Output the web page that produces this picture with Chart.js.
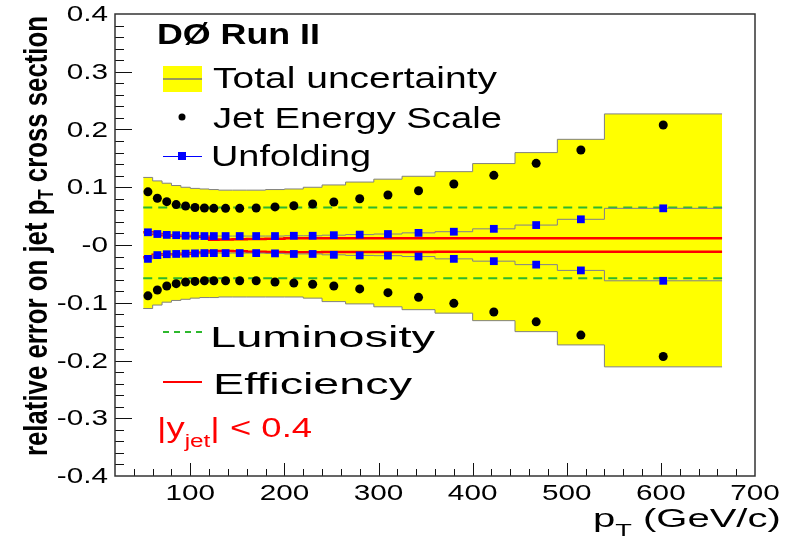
<!DOCTYPE html>
<html>
<head>
<meta charset="utf-8">
<script src="https://cdn.jsdelivr.net/npm/chart.js@4.4.1/dist/chart.umd.min.js"></script>
<style>
    html, body { margin: 0; padding: 0; background: #fff; }
    #chart { display: block; }
</style>
</head>
<body>
<canvas id="chart" width="785" height="539"></canvas>
<script>
// pT bins (GeV/c)
const binEdges = [50, 60, 70, 80, 90, 100, 110, 120, 130, 145, 160, 180, 200, 220, 240, 265, 295, 325, 360, 400, 445, 490, 540, 665];
const binCenters = [55, 65, 75, 85, 95, 105, 115, 125, 137.5, 152.5, 170, 190, 210, 230, 252.5, 280, 310, 342.5, 380, 422.5, 467.5, 515, 602.5];

// total uncertainty band
const totalUp = [0.117, 0.111, 0.107, 0.103, 0.100, 0.098, 0.097, 0.096, 0.095, 0.095, 0.095, 0.096, 0.097, 0.100, 0.104, 0.109, 0.114, 0.119, 0.127, 0.141, 0.160, 0.183, 0.227];
const totalDown = [-0.110, -0.104, -0.099, -0.096, -0.094, -0.092, -0.091, -0.091, -0.090, -0.090, -0.090, -0.090, -0.090, -0.092, -0.098, -0.102, -0.107, -0.112, -0.118, -0.131, -0.150, -0.173, -0.211];

// jet energy scale
const jesUp = [0.092, 0.081, 0.075, 0.070, 0.0675, 0.065, 0.064, 0.0635, 0.0635, 0.0635, 0.064, 0.066, 0.068, 0.071, 0.0745, 0.080, 0.0866, 0.094, 0.1056, 0.1206, 0.1414, 0.1645, 0.2078];
const jesDown = [-0.088, -0.078, -0.071, -0.067, -0.064, -0.063, -0.062, -0.062, -0.062, -0.062, -0.062, -0.064, -0.066, -0.068, -0.071, -0.076, -0.0825, -0.0906, -0.101, -0.116, -0.133, -0.156, -0.193];

// unfolding
const unfUp = [0.022, 0.019, 0.0175, 0.017, 0.016, 0.016, 0.0155, 0.0155, 0.0155, 0.0155, 0.0155, 0.0155, 0.016, 0.016, 0.017, 0.018, 0.019, 0.021, 0.023, 0.028, 0.0345, 0.0445, 0.0635];
const unfDown = [-0.024, -0.0175, -0.016, -0.0155, -0.015, -0.0145, -0.014, -0.014, -0.014, -0.014, -0.014, -0.0145, -0.0155, -0.0155, -0.017, -0.018, -0.0185, -0.020, -0.024, -0.028, -0.034, -0.044, -0.062];

// efficiency
const effUp = [0.022, 0.019, 0.017, 0.016, 0.0155, 0.015, 0.0145, 0.009, 0.0095, 0.010, 0.0105, 0.011, 0.0115, 0.0115, 0.0115, 0.0115, 0.0115, 0.0115, 0.0115, 0.0115, 0.0115, 0.0115, 0.0115];
const effDown = [-0.021, -0.017, -0.016, -0.016, -0.015, -0.014, -0.013, -0.0105, -0.0105, -0.011, -0.0115, -0.012, -0.0125, -0.0125, -0.012, -0.012, -0.012, -0.012, -0.0115, -0.0115, -0.0115, -0.0115, -0.0115];

// luminosity (flat)
const lumiRange = [50, 665];
const lumiUp = 0.065;
const lumiDown = -0.0575;

// axis ticks
const xTickValues = [100, 200, 300, 400, 500, 600, 700];
const xTickLabels = ["100", "200", "300", "400", "500", "600", "700"];
const yTickValues = [-0.4, -0.3, -0.2, -0.1, 0, 0.1, 0.2, 0.3, 0.4];
const yTickLabels = ["-0.4", "-0.3", "-0.2", "-0.1", "-0", "0.1", "0.2", "0.3", "0.4"];

const FONT = '"Liberation Sans", Arial, Helvetica, sans-serif';

// histogram -> points on bin edges for stepped lines
function stepPoints(edges, vals) {
    return edges.map((e, i) => ({ x: e, y: vals[Math.min(i, vals.length - 1)] }));
}
function centerPoints(vals) {
    return binCenters.map((c, i) => ({ x: c, y: vals[i] }));
}

// text stretched horizontally by sx
function stretchText(ctx, s, x, y, font, color, sx, align) {
    ctx.save();
    ctx.font = font;
    ctx.fillStyle = color;
    ctx.textAlign = "left";
    const w = ctx.measureText(s).width * sx;
    let x0 = x;
    if (align === "right") x0 = x - w;
    if (align === "center") x0 = x - w / 2;
    ctx.translate(x0, y);
    ctx.scale(sx, 1);
    ctx.fillText(s, 0, 0);
    ctx.restore();
    return w;
}
function fitScale(ctx, s, font, w) {
    ctx.save();
    ctx.font = font;
    const n = ctx.measureText(s).width;
    ctx.restore();
    return w / n;
}

const decorPlugin = {
    id: "decor",
    afterDraw(chart) {
        const ctx = chart.ctx;
        const a = chart.chartArea;
        const xs = chart.scales.x;
        const ys = chart.scales.y;

        ctx.save();
        // ticks inside the frame
        ctx.strokeStyle = "#111";
        ctx.lineWidth = 1;
        ctx.beginPath();
        for (let i = -19; i <= 19; i++) {
            const py = Math.round(ys.getPixelForValue(i * 0.02)) + 0.5;
            const len = (i % 5 === 0) ? 17 : 9;
            ctx.moveTo(a.left, py);
            ctx.lineTo(a.left + len, py);
        }
        for (let v = 40; v < 700; v += 20) {
            const px = Math.round(xs.getPixelForValue(v)) + 0.5;
            const len = (v % 100 === 0) ? 13 : 7;
            ctx.moveTo(px, a.bottom);
            ctx.lineTo(px, a.bottom - len);
        }
        ctx.stroke();

        // frame
        ctx.strokeStyle = "#333";
        ctx.lineWidth = 1.5;
        ctx.strokeRect(a.left, a.top, a.right - a.left, a.bottom - a.top);
        ctx.restore();

        // tick labels
        const tickFont = "22px " + FONT;
        yTickValues.forEach((v, i) => {
            ctx.textBaseline = "middle";
            stretchText(ctx, yTickLabels[i], 108, ys.getPixelForValue(v) + 1, tickFont, "#000", 1.35, "right");
        });
        xTickValues.forEach((v, i) => {
            ctx.textBaseline = "alphabetic";
            stretchText(ctx, xTickLabels[i], xs.getPixelForValue(v), 500, tickFont, "#000", 1.35, "center");
        });
        ctx.textBaseline = "alphabetic";

        // x axis title
        {
            const f1 = "25px " + FONT, f2 = "17px " + FONT;
            const sx = 1.6;
            let x = 593;
            x += stretchText(ctx, "p", x, 527, f1, "#000", sx);
            x += stretchText(ctx, "T", x, 536, f2, "#000", sx);
            stretchText(ctx, " (GeV/c)", x, 527, f1, "#000", sx);
        }

        // y axis title (rotated)
        {
            const f1 = "bold 34px " + FONT, f2 = "bold 22px " + FONT;
            const p1 = "relative error on jet p", p2 = "T", p3 = " cross section";
            ctx.save();
            ctx.font = f1;
            const w1 = ctx.measureText(p1).width, w3 = ctx.measureText(p3).width;
            ctx.font = f2;
            const w2 = ctx.measureText(p2).width;
            ctx.restore();
            const sx = 440 / (w1 + w2 + w3);
            ctx.save();
            ctx.translate(47, 456);
            ctx.rotate(-Math.PI / 2);
            let x = 0;
            x += stretchText(ctx, p1, x, 0, f1, "#000", sx);
            x += stretchText(ctx, p2, x, 6, f2, "#000", sx);
            stretchText(ctx, p3, x, 0, f1, "#000", sx);
            ctx.restore();
        }

        // experiment label
        const bold = "bold 29px " + FONT;
        stretchText(ctx, "D\u00D8 Run II", 157, 44, bold, "#000", fitScale(ctx, "D\u00D8 Run II", bold, 163));

        // legend
        const lf = "29px " + FONT;
        ctx.save();
        ctx.fillStyle = "#ffff00";
        ctx.fillRect(163, 66, 39, 26);
        ctx.strokeStyle = "#777";
        ctx.lineWidth = 1.5;
        ctx.beginPath(); ctx.moveTo(163, 79); ctx.lineTo(202, 79); ctx.stroke();
        ctx.fillStyle = "#000";
        ctx.beginPath(); ctx.arc(182, 117, 3.5, 0, Math.PI * 2); ctx.fill();
        ctx.strokeStyle = "#0000ff";
        ctx.lineWidth = 1;
        ctx.beginPath(); ctx.moveTo(163, 156.5); ctx.lineTo(202, 156.5); ctx.stroke();
        ctx.fillStyle = "#0000ff";
        ctx.fillRect(178, 152, 8, 8);
        ctx.strokeStyle = "#2db82d";
        ctx.lineWidth = 2;
        ctx.setLineDash([6, 5]);
        ctx.beginPath(); ctx.moveTo(163, 332); ctx.lineTo(202, 332); ctx.stroke();
        ctx.setLineDash([]);
        ctx.strokeStyle = "#ff0000";
        ctx.beginPath(); ctx.moveTo(163, 382); ctx.lineTo(202, 382); ctx.stroke();
        ctx.restore();

        stretchText(ctx, "Total uncertainty", 213, 88, lf, "#000", fitScale(ctx, "Total uncertainty", lf, 284));
        stretchText(ctx, "Jet Energy Scale", 213, 128, lf, "#000", fitScale(ctx, "Jet Energy Scale", lf, 289));
        stretchText(ctx, "Unfolding", 211, 166, lf, "#000", fitScale(ctx, "Unfolding", lf, 160));
        const lf2 = "30px " + FONT;
        stretchText(ctx, "Luminosity", 210, 347, lf2, "#000", fitScale(ctx, "Luminosity", lf2, 225));
        stretchText(ctx, "Efficiency", 213, 394, lf2, "#000", fitScale(ctx, "Efficiency", lf2, 199));

        // rapidity label
        {
            const f1 = "27px " + FONT, f2 = "18px " + FONT;
            const sx = 1.35;
            let x = 157;
            x += stretchText(ctx, "|y", x, 437, f1, "#ff0000", sx);
            x += stretchText(ctx, "jet", x, 447, f2, "#ff0000", sx);
            stretchText(ctx, "| < 0.4", x, 437, f1, "#ff0000", sx);
        }
    }
};

const ctx = document.getElementById("chart").getContext("2d");

const lineBase = { showLine: true, pointRadius: 0, fill: false, stepped: true };

new Chart(ctx, {
    type: "line",
    data: {
        datasets: [
            Object.assign({}, lineBase, {
                label: "Total uncertainty",
                data: stepPoints(binEdges, totalUp),
                borderColor: "#808080", borderWidth: 1,
                fill: "+1", backgroundColor: "#ffff00",
                order: 11
            }),
            Object.assign({}, lineBase, {
                label: "Total uncertainty (low)",
                data: stepPoints(binEdges, totalDown),
                borderColor: "#808080", borderWidth: 1,
                order: 10
            }),
            Object.assign({}, lineBase, {
                label: "Luminosity",
                data: lumiRange.map(x => ({ x: x, y: lumiUp })),
                borderColor: "#2db82d", borderWidth: 2, borderDash: [9, 6], stepped: false,
                order: 6
            }),
            Object.assign({}, lineBase, {
                label: "Luminosity (low)",
                data: lumiRange.map(x => ({ x: x, y: lumiDown })),
                borderColor: "#2db82d", borderWidth: 2, borderDash: [9, 6], stepped: false,
                order: 6
            }),
            Object.assign({}, lineBase, {
                label: "Efficiency",
                data: stepPoints(binEdges, effUp),
                borderColor: "#ff0000", borderWidth: 2.5,
                order: 5
            }),
            Object.assign({}, lineBase, {
                label: "Efficiency (low)",
                data: stepPoints(binEdges, effDown),
                borderColor: "#ff0000", borderWidth: 2.5,
                order: 5
            }),
            Object.assign({}, lineBase, {
                label: "Unfolding line",
                data: stepPoints(binEdges, unfUp),
                borderColor: "#7f7f8f", borderWidth: 1,
                order: 4
            }),
            Object.assign({}, lineBase, {
                label: "Unfolding line (low)",
                data: stepPoints(binEdges, unfDown),
                borderColor: "#7f7f8f", borderWidth: 1,
                order: 4
            }),
            {
                label: "Unfolding",
                data: centerPoints(unfUp),
                showLine: false, pointStyle: "rect", pointRadius: 5.5,
                pointBackgroundColor: "#0000ff", pointBorderWidth: 0,
                order: 3
            },
            {
                label: "Unfolding (low)",
                data: centerPoints(unfDown),
                showLine: false, pointStyle: "rect", pointRadius: 5.5,
                pointBackgroundColor: "#0000ff", pointBorderWidth: 0,
                order: 3
            },
            {
                label: "Jet Energy Scale",
                data: centerPoints(jesUp),
                showLine: false, pointRadius: 4.5,
                pointBackgroundColor: "#000", pointBorderWidth: 0,
                order: 1
            },
            {
                label: "Jet Energy Scale (low)",
                data: centerPoints(jesDown),
                showLine: false, pointRadius: 4.5,
                pointBackgroundColor: "#000", pointBorderWidth: 0,
                order: 1
            }
        ]
    },
    options: {
        responsive: false,
        devicePixelRatio: 1,
        animation: false,
        events: [],
        layout: { padding: { left: 0, right: 30, top: 14, bottom: 0 } },
        plugins: {
            legend: { display: false },
            tooltip: { enabled: false },
            filler: { propagate: false }
        },
        scales: {
            x: {
                type: "linear", min: 20, max: 700,
                ticks: { display: false },
                grid: { display: false, drawTicks: false },
                border: { display: false },
                afterFit: s => { s.height = 63; }
            },
            y: {
                type: "linear", min: -0.4, max: 0.4,
                ticks: { display: false },
                grid: { display: false, drawTicks: false },
                border: { display: false },
                afterFit: s => { s.width = 115; }
            }
        }
    },
    plugins: [decorPlugin]
});
</script>
</body>
</html>
